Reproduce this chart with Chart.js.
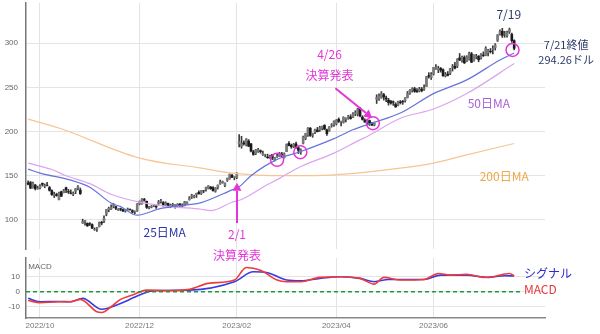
<!DOCTYPE html>
<html>
<head>
<meta charset="utf-8">
<script src="https://cdn.jsdelivr.net/npm/chart.js@4.4.0/dist/chart.umd.min.js"></script>
<style>
  body { margin: 0; background: #fff; }
  #wrap { position: relative; width: 600px; height: 334px; }
  canvas { position: absolute; left: 0; }
  #main { top: 0; z-index: 2; }
  #macd { top: 250px; z-index: 1; }
</style>
</head>
<body>
<div id="wrap">
  <canvas id="main" width="600" height="270"></canvas>
  <canvas id="macd" width="600" height="84"></canvas>
</div>
<script>
// trading-day index 0 = 2022/09/26, 205 = 2023/07/21
const monthTicks = [5, 47, 88, 130, 171];
const monthLabels = ['2022/10', '2022/12', '2023/02', '2023/04', '2023/06'];
const priceTicks = [100, 150, 200, 250, 300];
const macdTicks = [-10, 0, 10];

const open = [
  141.8, 142.2, 136.5, 139.4, 135.2,
  136.4, 141.3, 138.0, 139.2, 136.6, 133.2, 127.9, 128.8, 122.9, 131.8, 130.8, 136.4, 132.1, 130.4, 128.9, 132.4, 135.9, 133.7, 96.4, 97.9, 96.0,
  95.6, 94.6, 88.8, 89.5, 92.2, 97.1, 98.4, 106.6, 111.6, 112.0, 115.5, 114.8, 111.0, 112.7, 111.6, 110.2, 111.5, 111.7, 110.4, 109.1, 110.2,
  118.3, 117.9, 123.0, 121.0, 113.5, 114.5, 115.1, 115.6, 118.8, 120.8, 119.6, 117.1, 118.6, 114.6, 116.9, 116.1, 116.0, 117.9, 116.3, 116.4, 118.2,
  122.8, 126.0, 126.1, 128.9, 131.2, 129.7, 133.0, 134.7, 135.4, 137.0, 136.3, 132.5, 136.7, 140.8, 142.0, 139.0, 144.7, 146.4, 150.4, 148.0,
  148.0, 186.0, 183.4, 187.2, 185.0, 189.2, 186.0, 177.2, 175.0, 177.6, 178.3, 173.5, 173.7, 171.2, 171.3, 173.9, 168.0, 171.6, 171.6,
  174.5, 170.5, 177.4, 186.6, 184.5, 183.5, 186.0, 181.5, 176.5, 186.7, 192.2, 196.1, 203.8, 195.9, 199.6, 201.8, 202.2, 204.0, 207.1, 201.9, 200.9, 207.3, 208.0,
  208.8, 213.8, 211.0, 210.4, 213.8, 215.0, 216.5, 216.3, 220.1, 219.8, 226.1, 216.3, 212.8, 210.4, 212.4, 209.2, 207.2, 236.5, 236.9,
  238.6, 241.7, 238.0, 235.6, 233.9, 233.7, 231.0, 230.0, 233.5, 234.0, 235.0, 238.5, 243.2, 246.7, 248.5, 246.1, 245.9, 248.0, 248.0, 251.0, 263.4, 261.0,
  265.3, 271.4, 270.0, 271.4, 270.0, 263.0, 265.0, 266.0, 272.9, 274.0, 274.0, 283.4, 280.8, 284.0, 279.5, 282.0, 288.0, 280.1, 284.9, 285.4, 283.5,
  286.7, 286.2, 289.3, 291.0, 293.5, 294.8, 303.1, 310.4, 313.6, 310.5, 308.9, 313.0, 310.0, 303.0
];
const high = [
  144.1, 143.6, 142.9, 140.2, 138.2,
  139.9, 141.8, 140.7, 142.4, 137.8, 133.9, 131.3, 130.2, 131.4, 132.6, 134.5, 137.0, 134.6, 134.0, 131.6, 135.5, 138.8, 136.1, 100.8, 99.6, 96.7,
  96.9, 95.6, 90.9, 91.6, 97.6, 98.5, 104.5, 111.9, 114.4, 117.1, 118.6, 115.5, 112.7, 113.2, 111.8, 111.7, 113.4, 112.4, 111.4, 110.2, 118.4,
  121.5, 124.1, 124.4, 121.4, 115.2, 116.2, 117.4, 116.1, 122.0, 123.3, 120.7, 120.5, 118.9, 117.9, 118.8, 117.4, 118.2, 118.3, 118.1, 121.0, 120.4,
  126.4, 129.0, 128.1, 130.3, 132.9, 133.1, 133.2, 137.1, 138.7, 137.9, 137.7, 136.5, 139.5, 145.1, 144.0, 141.8, 147.4, 152.0, 151.6, 149.0,
  153.2, 196.7, 194.7, 189.6, 192.0, 190.9, 186.8, 178.8, 179.8, 180.9, 179.2, 178.0, 174.3, 174.4, 173.4, 174.0, 170.7, 174.2, 176.4,
  176.4, 175.9, 186.0, 188.6, 185.8, 186.5, 188.2, 183.4, 180.4, 195.0, 198.1, 204.4, 204.6, 198.2, 202.9, 204.7, 206.0, 206.2, 207.8, 202.8, 205.6, 209.0, 212.2,
  213.5, 215.5, 211.9, 216.8, 215.5, 218.3, 219.1, 221.4, 223.6, 226.4, 227.5, 217.9, 214.6, 213.8, 213.1, 210.5, 210.6, 241.7, 242.8,
  245.3, 243.2, 240.3, 237.6, 235.5, 234.7, 232.5, 234.4, 235.2, 235.3, 238.5, 245.4, 247.6, 249.7, 250.2, 248.6, 250.1, 250.0, 253.0, 262.4, 266.7, 266.8,
  272.7, 275.8, 274.0, 272.6, 271.0, 266.9, 268.0, 271.5, 276.0, 278.5, 282.6, 288.4, 285.6, 285.8, 285.9, 290.0, 289.7, 287.0, 287.5, 286.0, 288.3,
  290.3, 296.1, 293.0, 294.1, 297.0, 299.6, 309.9, 315.2, 316.9, 313.5, 313.9, 317.2, 311.5, 303.9
];
const low = [
  139.6, 135.4, 135.9, 133.8, 134.6,
  135.1, 138.2, 136.4, 138.4, 132.6, 127.7, 125.3, 126.7, 122.7, 126.4, 130.5, 130.8, 129.9, 129.3, 127.4, 129.6, 133.9, 128.8, 96.0, 93.9, 92.6,
  93.6, 90.4, 88.1, 87.0, 91.9, 94.3, 96.7, 104.6, 109.1, 111.6, 113.6, 111.6, 110.6, 110.3, 109.5, 108.7, 110.7, 110.9, 108.0, 106.9, 109.5,
  117.0, 117.8, 121.1, 112.9, 112.3, 113.6, 114.8, 112.9, 116.6, 119.0, 115.4, 116.4, 113.7, 113.7, 115.8, 113.2, 115.5, 115.1, 115.4, 115.8, 117.7,
  122.3, 124.2, 124.8, 125.3, 129.2, 128.7, 130.7, 132.6, 134.9, 134.5, 132.6, 131.3, 134.9, 140.2, 141.5, 137.6, 143.5, 146.0, 148.0, 145.3,
  146.6, 182.6, 181.2, 184.5, 183.7, 182.8, 177.0, 173.1, 173.8, 176.3, 175.5, 173.1, 171.3, 169.6, 169.7, 168.2, 166.7, 170.6, 171.5,
  171.2, 169.9, 177.4, 183.6, 181.0, 181.9, 180.8, 175.1, 174.3, 185.9, 190.7, 194.6, 194.5, 193.5, 197.6, 199.6, 200.1, 201.9, 202.0, 195.7, 200.2, 205.0, 205.8,
  207.4, 210.3, 206.5, 209.6, 211.0, 213.9, 214.0, 215.7, 218.0, 217.6, 216.5, 213.0, 210.4, 208.6, 206.9, 206.8, 206.4, 231.8, 235.2,
  237.7, 235.6, 233.9, 229.9, 230.9, 229.6, 227.5, 228.9, 231.2, 230.8, 233.2, 238.0, 242.0, 244.7, 244.4, 244.3, 244.9, 245.0, 246.5, 251.0, 260.5, 259.0,
  264.0, 270.3, 266.7, 267.3, 262.5, 261.8, 263.0, 264.5, 268.5, 271.0, 272.4, 280.4, 278.6, 277.0, 279.0, 280.9, 278.2, 279.6, 282.4, 279.0, 282.0,
  285.0, 285.8, 285.8, 288.9, 288.0, 292.3, 302.0, 309.2, 306.6, 306.8, 306.8, 311.0, 301.0, 292.5
];
const close = [
  140.4, 136.0, 141.6, 135.4, 135.7,
  138.6, 140.3, 139.0, 139.1, 133.5, 128.5, 129.0, 127.5, 130.3, 126.8, 133.0, 134.0, 131.5, 130.0, 130.0, 135.3, 137.5, 129.8, 97.9, 99.2, 93.2,
  95.2, 90.5, 88.9, 90.8, 96.7, 96.5, 101.5, 111.9, 113.0, 114.2, 117.1, 113.2, 111.5, 112.1, 109.9, 111.4, 112.2, 111.4, 108.8, 109.5, 118.1,
  120.4, 123.5, 122.4, 114.1, 113.9, 115.3, 115.9, 114.7, 120.2, 121.6, 116.2, 119.4, 114.5, 117.1, 117.4, 117.1, 118.0, 116.9, 115.6, 120.3, 120.3,
  124.7, 127.4, 126.9, 130.0, 129.5, 133.0, 132.9, 136.7, 138.5, 135.4, 133.0, 136.2, 139.4, 143.2, 143.2, 141.6, 147.1, 151.7, 148.0, 149.0,
  153.1, 188.8, 186.5, 186.1, 191.6, 183.4, 177.9, 174.2, 179.4, 179.5, 177.4, 175.0, 173.9, 170.4, 172.0, 170.0, 170.4, 172.0, 174.9,
  173.4, 175.0, 185.3, 184.1, 182.8, 185.6, 181.6, 178.8, 179.3, 194.0, 197.8, 203.6, 195.6, 197.8, 202.2, 199.8, 204.3, 206.0, 202.8, 197.6, 205.4, 207.8, 211.9,
  213.1, 211.5, 211.4, 216.1, 214.8, 216.9, 214.8, 220.1, 221.5, 225.5, 217.8, 213.7, 210.8, 212.9, 209.4, 207.5, 209.4, 238.6, 240.3,
  243.0, 239.2, 237.0, 232.8, 232.3, 233.3, 227.9, 233.9, 232.7, 233.8, 237.8, 243.0, 246.9, 248.5, 245.6, 245.2, 248.0, 246.5, 249.2, 262.0, 262.5, 264.7,
  272.6, 272.6, 271.4, 269.6, 263.3, 264.6, 263.7, 271.3, 273.7, 271.9, 281.8, 281.0, 284.3, 277.9, 284.8, 288.7, 278.5, 286.7, 285.3, 281.5, 287.0,
  286.0, 294.4, 292.0, 290.5, 294.1, 298.3, 309.3, 313.4, 308.9, 310.6, 312.1, 315.6, 303.0, 294.3
];

// moving averages (index, value)
const ma25X = [0, 5, 18, 26, 35, 39, 46, 56, 67, 73, 86, 89, 94, 105, 115, 129, 137, 145, 157, 171, 185, 199, 205];
const ma25Y = [157.5, 153, 145, 137, 119, 115, 105.3, 113, 117, 119.5, 134, 137.5, 150, 168.5, 177.4, 192, 202, 209.5, 221, 243, 258.5, 281, 289];
const ma50X = [0, 10, 16, 26, 35, 47, 60, 73, 77, 86, 90, 101, 106, 115, 129, 140, 143, 157, 171, 185, 205];
const ma50Y = [164.3, 157, 150, 141, 129, 120, 115, 112, 110.5, 120, 123, 140, 147, 160.4, 175.6, 190.6, 194.4, 215, 225.5, 243, 277];
const ma200X = [0, 13, 47, 73, 86, 108, 129, 157, 171, 185, 205];
const ma200Y = [214, 204, 170, 158.6, 152.9, 150, 151, 158.6, 164.3, 173.6, 186.5];

// MACD panel
const macdX = [0, 5, 13, 18, 22, 29, 31, 35, 39, 44, 50, 59, 68, 76, 87, 92, 98, 105, 109, 115, 123, 132, 140, 146, 150, 157, 167, 173, 178, 185, 192, 196, 201, 203, 205];
const macdY = [-5.8, -7.3, -6.7, -6.7, -5.1, -13.3, -13.8, -10, -5.1, -2.2, 1.1, 0.7, 1.6, 5.6, 7.8, 16.2, 14.4, 7.8, 6.7, 6.7, 9.6, 10, 8.9, 5.1, 9.6, 7.8, 8.2, 12.2, 11.1, 11.6, 9.6, 10, 11.8, 12.2, 10.5];
const signalX = [0, 5, 13, 18, 23, 31, 39, 47, 53, 68, 87, 95, 101, 109, 115, 123, 132, 140, 146, 152, 167, 174, 185, 194, 201, 205];
const signalY = [-4.4, -6.7, -6.5, -6.7, -4.4, -11.7, -7.8, -2.2, 0.7, 1.1, 6.7, 13.3, 12.7, 7.8, 7.3, 8.9, 10, 8.9, 6.7, 8.2, 8.2, 11.1, 11.1, 9.6, 10.7, 10.5];

// annotations
const circleX = [105, 114.8, 145.4, 204.3];
const circleY = [168, 176.7, 209.5, 292.4];

const jp = '"Noto Sans CJK JP", "Noto Sans", sans-serif';
const pink = '#e535d8';
const navy = '#2b3a67';

const pts = (xs, ys) => xs.map((x, i) => ({ x: x, y: ys[i] }));

function arrow(ctx, x1, y1, x2, y2, color) {
  const a = Math.atan2(y2 - y1, x2 - x1);
  const hl = 8, hw = 4.5;
  ctx.strokeStyle = color;
  ctx.fillStyle = color;
  ctx.lineWidth = 2;
  ctx.beginPath();
  ctx.moveTo(x1, y1);
  ctx.lineTo(x2 - Math.cos(a) * hl, y2 - Math.sin(a) * hl);
  ctx.stroke();
  ctx.beginPath();
  ctx.moveTo(x2, y2);
  ctx.lineTo(x2 - Math.cos(a) * hl - Math.sin(a) * hw, y2 - Math.sin(a) * hl + Math.cos(a) * hw);
  ctx.lineTo(x2 - Math.cos(a) * hl + Math.sin(a) * hw, y2 - Math.sin(a) * hl - Math.cos(a) * hw);
  ctx.closePath();
  ctx.fill();
}

const mainNotes = {
  id: 'mainNotes',
  afterDatasetsDraw(chart) {
    const { ctx, scales: { x, y } } = chart;
    const px = v => x.getPixelForValue(v);
    const py = v => y.getPixelForValue(v);
    ctx.save();
    circleX.forEach((cx, i) => {
      ctx.beginPath();
      ctx.arc(px(cx), py(circleY[i]), 6.5, 0, Math.PI * 2);
      ctx.strokeStyle = pink;
      ctx.lineWidth = 1.5;
      ctx.stroke();
    });
    arrow(ctx, px(88.1), py(96.4), px(88.1), py(142), pink);
    arrow(ctx, px(129.6), py(249.1), px(145.1), py(215.2), pink);

    const texts = [
      ['4/26', 127.1, 286.8, pink, 12],
      ['決算発表', 127.1, 263, pink, 12],
      ['2/1', 88.1, 83.2, pink, 12],
      ['決算発表', 88.1, 59.4, pink, 12],
      ['7/19', 202.7, 333.1, navy, 12],
      ['7/21終値', 226.9, 298.1, navy, 11],
      ['294.26ドル', 226.9, 281.1, navy, 11],
      ['50日MA', 194.3, 231.3, '#a862d8', 12],
      ['200日MA', 200.8, 148.8, '#f0a848', 12],
      ['25日MA', 57.6, 85.4, '#2b38a8', 12]
    ];
    ctx.textAlign = 'center';
    ctx.textBaseline = 'middle';
    texts.forEach(([t, tx, ty, c, s]) => {
      ctx.font = s + 'px ' + jp;
      ctx.fillStyle = c;
      ctx.fillText(t, px(tx), py(ty));
    });
    ctx.restore();
  }
};

const macdNotes = {
  id: 'macdNotes',
  afterDatasetsDraw(chart) {
    const { ctx, scales: { x, y } } = chart;
    ctx.save();
    ctx.textBaseline = 'middle';
    ctx.textAlign = 'left';
    ctx.font = '8px "Liberation Sans", sans-serif';
    ctx.fillStyle = '#666';
    ctx.fillText('MACD', x.getPixelForValue(0), y.getPixelForValue(16.5));
    ctx.font = '12px ' + jp;
    ctx.fillStyle = '#2b2bd0';
    ctx.fillText('シグナル', x.getPixelForValue(209.1), y.getPixelForValue(12.5));
    ctx.fillStyle = '#e5383b';
    ctx.fillText('MACD', x.getPixelForValue(209.1), y.getPixelForValue(1.8));
    ctx.restore();
  }
};

const gridColor = '#e4e4e4';
const tickFont = { size: 8, family: '"Liberation Sans", Arial, sans-serif' };

// keep the plot box fixed: no extra padding from tick labels
const fixBox = (w, h) => s => {
  if (w) s.width = w;
  if (h) s.height = h;
  s.paddingTop = 0; s.paddingBottom = 0; s.paddingLeft = 0; s.paddingRight = 0;
};

const xScale = (showLabels, h) => ({
  type: 'linear',
  min: -0.9,
  max: 218,
  offset: false,
  afterBuildTicks: s => { s.ticks = monthTicks.map(v => ({ value: v })); },
  afterFit: fixBox(0, h),
  ticks: {
    display: showLabels,
    color: '#777',
    font: tickFont,
    padding: 3,
    maxRotation: 0,
    callback: v => monthLabels[monthTicks.indexOf(v)]
  },
  grid: { color: gridColor, drawTicks: false, offset: false },
  border: { display: showLabels, color: '#888', width: 1.5 }
});

new Chart(document.getElementById('main'), {
  type: 'bar',
  data: {
    datasets: [
      { type: 'line', data: pts(ma25X, ma25Y), borderColor: '#6674da', borderWidth: 1.2, pointRadius: 0, cubicInterpolationMode: 'monotone', order: 1 },
      { type: 'line', data: pts(ma50X, ma50Y), borderColor: '#dba4f0', borderWidth: 1.2, pointRadius: 0, cubicInterpolationMode: 'monotone', order: 1 },
      { type: 'line', data: pts(ma200X, ma200Y), borderColor: '#f7c592', borderWidth: 1.2, pointRadius: 0, cubicInterpolationMode: 'monotone', order: 1 },
      { data: close.map((c, i) => ({ x: i, y: [low[i], high[i]] })), backgroundColor: '#3a3a3a', barThickness: 1, grouped: false, order: 3 },
      { data: close.map((c, i) => ({ x: i, y: [open[i], c] })), backgroundColor: close.map((c, i) => c >= open[i] ? '#7a7a7a' : '#1a1a1a'), barThickness: 2, grouped: false, order: 2 }
    ]
  },
  options: {
    responsive: false,
    animation: false,
    layout: { padding: { top: 3, right: 55, left: 0, bottom: 0 } },
    plugins: { legend: { display: false }, tooltip: { enabled: false } },
    scales: {
      x: xScale(false, 21),
      y: {
        min: 67,
        max: 345.6,
        afterBuildTicks: s => { s.ticks = priceTicks.map(v => ({ value: v })); },
        afterFit: fixBox(26, 0),
        ticks: { color: '#666', font: tickFont, padding: 8 },
        grid: { color: gridColor, drawTicks: false },
        border: { color: '#777', width: 1.5 }
      }
    }
  },
  plugins: [mainNotes]
});

new Chart(document.getElementById('macd'), {
  type: 'line',
  data: {
    datasets: [
      { data: [{ x: -0.9, y: 0 }, { x: 207.5, y: 0 }], borderColor: '#1f9a3a', borderWidth: 1.5, borderDash: [4, 3], pointRadius: 0 },
      { data: pts(macdX, macdY), borderColor: '#ee3b3b', borderWidth: 1.6, pointRadius: 0, cubicInterpolationMode: 'monotone' },
      { data: pts(signalX, signalY), borderColor: '#3a3ae0', borderWidth: 1.6, pointRadius: 0, cubicInterpolationMode: 'monotone' }
    ]
  },
  options: {
    responsive: false,
    animation: false,
    layout: { padding: { top: 8, right: 55, left: 0, bottom: 0 } },
    plugins: { legend: { display: false }, tooltip: { enabled: false } },
    scales: {
      x: xScale(true, 16),
      y: {
        min: -17.5,
        max: 22.5,
        afterBuildTicks: s => { s.ticks = macdTicks.map(v => ({ value: v })); },
        afterFit: fixBox(26, 0),
        ticks: { color: '#666', font: tickFont, padding: 6 },
        grid: { color: gridColor, drawTicks: false },
        border: { color: '#777', width: 1.5 }
      }
    }
  },
  plugins: [macdNotes]
});
</script>
</body>
</html>
